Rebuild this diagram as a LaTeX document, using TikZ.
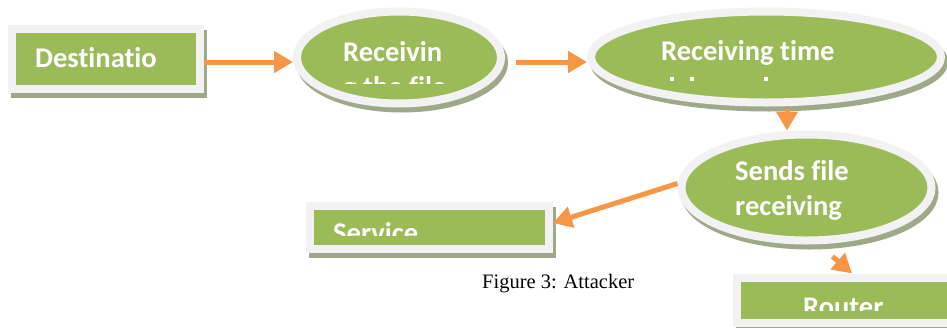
\documentclass[tikz,border=0pt]{standalone}
\usepackage{fontspec}
\setmainfont{Liberation Serif}
\newfontfamily\boxfont[Ligatures=CommonOff]{Carlito}
\usetikzlibrary{shapes,shadows,arrows.meta}
\definecolor{leaf}{RGB}{155,187,89}
\definecolor{rim}{RGB}{242,242,242}
\definecolor{shade}{RGB}{160,168,138}
\definecolor{flow}{RGB}{247,150,70}

\begin{document}
\begin{tikzpicture}[x=1pt,y=-1pt]
    \tikzstyle{plate}=[fill=leaf,draw=rim,line width=8pt,inner sep=0pt,
      drop shadow={shadow xshift=3pt,shadow yshift=-5pt,opacity=1,fill=shade,draw=shade}]
    \tikzstyle{block}=[plate,rectangle]
    \tikzstyle{bubble}=[plate,ellipse]
    \tikzstyle{wtext}=[text=white,font=\boxfont\bfseries\fontsize{28.5}{35}\selectfont,inner sep=0pt,anchor=base west]
    \tikzstyle{link}=[draw=flow,line width=5pt,-{Triangle[length=19pt,width=21pt]}]
    \clip (0,0) rectangle (947,327);
    \node[block,minimum width=188,minimum height=60] (dest) at (106,59) {};
    \node[bubble,minimum width=204,minimum height=92] (recv) at (399,57.5) {};
    \node[bubble,minimum width=350,minimum height=91] (stamp) at (766,57) {};
    \node[bubble,minimum width=250,minimum height=106] (sends) at (806.5,187.5) {};
    \node[block,minimum width=239,minimum height=43] (service) at (429.5,227) {};
    \node[block,minimum width=242,minimum height=45] (router) at (858,300) {};
    \node[wtext] (desttext) at (35,67) {Destinatio};
    \node[wtext] (recvtext) at (343,61) {Receivin};
    \begin{scope}
      \clip (300,64) rectangle (500,83);
      \node[wtext] (recvrest) at (343,96) {g the file};
    \end{scope}
    \node[wtext] (stamptext) at (661,60) {Receiving time};
    \foreach \dx in {672,692,766}
      \fill[white] (\dx-2,77) rectangle (\dx+2,81);
    \node[wtext] (sendstext) at (735,180) {Sends file};
    \node[wtext] (sendsrest) at (735,215) {receiving};
    \begin{scope}
      \clip (314,209) rectangle (545,235);
      \node[wtext] (servicetext) at (333,242) {Service};
    \end{scope}
    \begin{scope}
      \clip (742,282) rectangle (947,310);
      \node[wtext] (routertext) at (803,316) {Router};
    \end{scope}
    \draw[link] ([yshift=-3pt]dest.east) -- ([yshift=-4.5pt]recv.west);
    \draw[link] ([xshift=11pt,yshift=-4.5pt]recv.east) -- ([yshift=-5pt]stamp.west);
    \draw[link] ([xshift=21pt,yshift=-2pt]stamp.south) -- ([xshift=-19.5pt]sends.north);
    \draw[link] ([yshift=4pt]sends.west) -- ([yshift=4pt]service.east);
    \draw[link] ([xshift=26pt,yshift=-12pt]sends.south) -- ([xshift=-6pt]router.north);
    \node[font=\fontsize{20.5}{24}\selectfont,inner sep=0pt,anchor=base west] (caption) at (482,288) {Figure 3: Attacker};
\end{tikzpicture}
\end{document}
